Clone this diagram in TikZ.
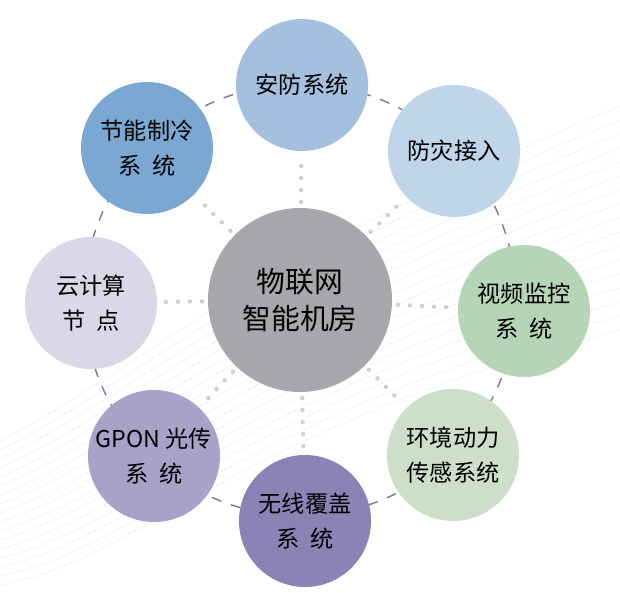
\documentclass[tikz,border=0pt]{standalone}
\usepackage{fontspec}
\setmainfont{Noto Sans CJK SC}
\usetikzlibrary{positioning}
\definecolor{hubgray}{HTML}{A7A8AB}
\definecolor{ringpurple}{HTML}{7C73A8}
\definecolor{dotgray}{HTML}{CFCFCF}
\definecolor{wavecyan}{HTML}{E2F2F6}
\tikzset{
  hub/.style={circle, fill=hubgray, minimum size=92mm, inner sep=0pt, align=center,
    font=\fontsize{41}{52}\selectfont},
  sys/.style={circle, minimum size=66mm, inner sep=0pt, align=center,
    font=\fontsize{33}{49}\selectfont},
  ring/.style={ringpurple, line width=0.7mm, dash pattern=on 5mm off 5mm},
  dots/.style={dotgray, line width=2.2mm, line cap=round, dash pattern=on 0mm off 6mm},
  wave/.style={wavecyan, line width=0.25mm}
}
\newcommand{\gap}{\hspace{0.5em}}
\begin{document}
\begin{tikzpicture}[x=0.5mm,y=-0.5mm]
  \useasboundingbox (0,0) rectangle (620,593);

  % faint background lines
  \foreach \i in {0,...,16}
    \draw[wave] (0,585-\i*9) .. controls (140,560-\i*12) and (230,430-\i*10) .. (620,330-\i*14);

  % dashed ring
  \draw[ring] (300,300) circle (216);

  % nodes
  \node[hub] (hub) at (300,300) {物联网\\智能机房};
  \node[sys, fill={rgb,255:red,164;green,192;blue,222}] (anfang) at (302,85) {安防系统};
  \node[sys, fill={rgb,255:red,192;green,213;blue,234}] (fangzai) at (454,151) {防灾接入};
  \node[sys, fill={rgb,255:red,182;green,212;blue,182}] (shipin) at (524,311) {视频监控\\系\gap 统};
  \node[sys, fill={rgb,255:red,205;green,222;blue,201}] (huanjing) at (453,455) {环境动力\\传感系统};
  \node[sys, fill={rgb,255:red,140;green,130;blue,181}] (wuxian) at (305,521) {无线覆盖\\系\gap 统};
  \node[sys, fill={rgb,255:red,168;green,162;blue,200}] (gpon) at (154,456) {GPON 光传\\系\gap 统};
  \node[sys, fill={rgb,255:red,218;green,216;blue,232}] (yunjisuan) at (91,303) {云计算\\节\gap 点};
  \node[sys, fill={rgb,255:red,123;green,168;blue,210}] (jieneng) at (147,148) {节能制冷\\系\gap 统};

  % dotted spokes
  \foreach \n in {anfang,fangzai,shipin,huanjing,wuxian,gpon,yunjisuan,jieneng}
    \draw[dots, shorten <=3mm, shorten >=3mm] (hub) -- (\n);
\end{tikzpicture}
\end{document}
